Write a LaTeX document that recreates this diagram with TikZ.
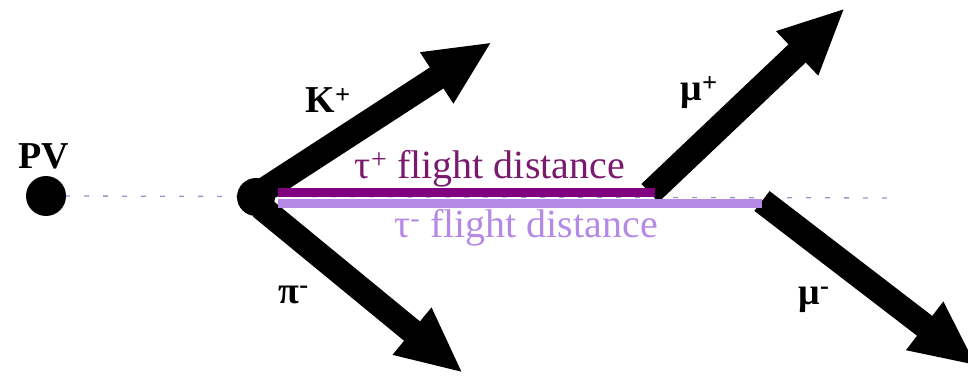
\documentclass[tikz,border=0pt]{standalone}
\usepackage{fontspec}
\newfontfamily\lserif{Liberation Serif}
\usetikzlibrary{arrows.meta}
\definecolor{tauplus}{RGB}{128,0,128}
\definecolor{tauplustext}{RGB}{122,26,110}
\definecolor{tauminus}{RGB}{181,137,230}
\definecolor{beamline}{RGB}{140,155,200}
\tikzset{
  track/.style={line width=25pt, black, -{Triangle[length=66pt,width=56pt]}},
  vertex/.style={circle, fill=black, inner sep=0pt},
  plabel/.style={font=\lserif\fontsize{38}{44}\selectfont\bfseries, anchor=base west},
  dlabel/.style={font=\lserif\fontsize{40}{46}\selectfont, anchor=base},
  fbar/.style={line width=9pt},
}
\begin{document}
\begin{tikzpicture}[x=1pt,y=-1pt]
\useasboundingbox (0,0) rectangle (968,377);
% coordinates
\coordinate (pvc) at (46,196);
\coordinate (dashend) at (900,198);
\coordinate (kstart) at (261,192);
\coordinate (ktip) at (492,42);
\coordinate (pistart) at (261,207);
\coordinate (pitip) at (463,373);
\coordinate (mupstart) at (650,193);
\coordinate (muptip) at (845,8);
\coordinate (mumstart) at (762,201);
\coordinate (mumtip) at (977,366);
\coordinate (tpa) at (278,192.5);
\coordinate (tpb) at (655,192.5);
\coordinate (tma) at (278,203);
\coordinate (tmb) at (762,203);
% beam line
\draw[beamline, line width=1.3pt, dash pattern=on 5pt off 14pt] (pvc) -- (dashend);
% tracks
\draw[track] (kstart) -- (ktip);
\draw[track] (pistart) -- (pitip);
\draw[track] (mupstart) -- (muptip);
\draw[track] (mumstart) -- (mumtip);
% flight distances
\draw[fbar, tauplus] (tpa) -- (tpb);
\draw[fbar, tauminus] (tma) -- (tmb);
% vertices
\node[vertex, minimum size=40pt] (pv) at (pvc) {};
\node[vertex, minimum size=38pt] (sv) at (256,197) {};
% labels
\node[plabel, anchor=base] (pvlabel) at (44,168) {PV};
\node[plabel] (klabel) at (302,113) {K\textsuperscript{+}};
\node[plabel] (pilabel) at (275,303) {π\textsuperscript{-}};
\node[plabel] (muplabel) at (677,101) {μ\textsuperscript{+}};
\node[plabel] (mumlabel) at (795,304) {μ\textsuperscript{-}};
\node[dlabel, text=tauplustext] (tpl) at (490,178) {τ\textsuperscript{+} flight distance};
\node[dlabel, text=tauminus] (tml) at (526,237) {τ\textsuperscript{-} flight distance};
\end{tikzpicture}
\end{document}
